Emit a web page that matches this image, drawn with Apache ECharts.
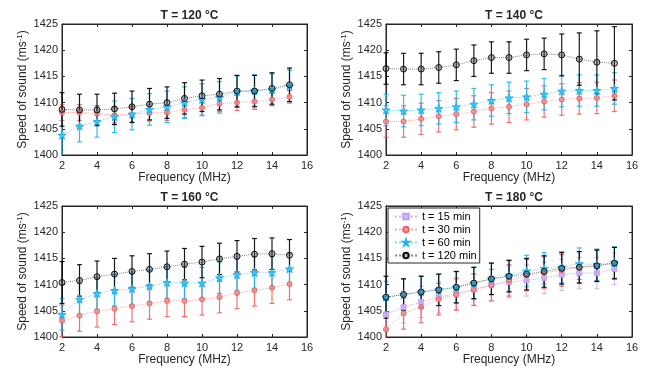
<!DOCTYPE html>
<html><head><meta charset="utf-8">
<script src="https://cdn.jsdelivr.net/npm/echarts@6/dist/echarts.min.js"></script>
<style>html,body{margin:0;padding:0;background:#fff}#c{width:646px;height:371px}</style>
</head><body><div id="c"></div>
<script>
// ---- data ----
const freq = [2,3,4,5,6,7,8,9,10,11,12,13,14,15];
const xTicks = [2,4,6,8,10,12,14,16];
const yTicks = [1400,1405,1410,1415,1420,1425];
const titles = ['T = 120 °C','T = 140 °C','T = 160 °C','T = 180 °C'];
const seriesNames = ['t = 15 min','t = 30 min','t = 60 min','t = 120 min'];

// T = 120 C
const t120_30  = [1408.1,1408.1,1407.9,1407.6,1407.8,1408.0,1408.1,1408.6,1409.0,1409.8,1410.0,1410.2,1410.6,1411.1];
const t120_30e = [1.5,1.5,1.5,1.5,1.5,1.5,1.5,1.5,1.5,1.5,1.5,1.5,1.2,1.2];
const t120_60  = [1403.8,1405.5,1406.4,1407.3,1407.8,1408.7,1409.2,1410.0,1410.6,1411.0,1412.1,1412.3,1412.5,1413.2];
const t120_60e = [4.5,3,3,3,3,3,3,3,3,3,3,3,3,3];
const t120_120  = [1408.7,1408.6,1408.6,1408.8,1409.2,1409.7,1410.0,1410.8,1411.3,1411.6,1412.2,1412.2,1412.7,1413.4];
const t120_120e = [3.2,3,3,3,3,3,3,3,3,3,3,3,3,3.2];

// T = 140 C
const t140_30  = [1406.4,1406.4,1406.9,1407.4,1407.8,1408.3,1408.9,1409.2,1409.7,1410.2,1410.6,1410.8,1410.9,1411.3];
const t140_30e = [3,3,3,3,3,3,3,3,3,3,3,3,3,3];
const t140_60  = [1408.6,1408.4,1408.6,1408.9,1409.2,1409.7,1410.4,1410.9,1411.1,1411.6,1412.2,1412.3,1412.3,1412.7];
const t140_60e = [3,3,3,3,3,3,3,3,3,3,3,3,3,3];
const t140_120  = [1416.5,1416.4,1416.4,1416.7,1417.2,1418.0,1418.6,1418.6,1419.1,1419.3,1419.1,1418.3,1417.7,1417.5];
const t140_120e = [3,3,3,3,3,3,3,3,3,3,4,5,6,7];

// T = 160 C
const t160_30  = [1403.1,1404.1,1404.9,1405.4,1405.9,1406.4,1406.9,1406.9,1407.2,1407.6,1408.4,1408.9,1409.4,1410.1];
const t160_30e = [3,3,3,3,3,3,3,3,3,3,3,3,3,3];
const t160_60  = [1404.3,1407.2,1408.3,1408.9,1409.2,1409.7,1410.4,1410.3,1410.3,1411.3,1411.9,1412.3,1412.3,1413.0];
const t160_60e = [3,3,3,3,3,3,3,3,3,3,3,3,3,3];
const t160_120  = [1410.4,1410.8,1411.5,1412.0,1412.5,1412.9,1413.4,1413.9,1414.3,1414.9,1415.4,1415.8,1415.9,1415.6];
const t160_120e = [4,3,3,3,3,3,3,3,3,3,3,3,3,3];

// T = 180 C
const t180_15  = [1404.3,1405.7,1406.7,1407.6,1408.3,1409.1,1409.9,1410.5,1410.8,1411.3,1411.9,1412.2,1412.2,1413.0];
const t180_15e = [3,3,3,3,3,3,3,3,3,3,3,3,3,3];
const t180_30  = [1401.5,1404.5,1405.7,1407.2,1408.1,1409.0,1409.9,1410.8,1411.8,1412.3,1412.7,1413.3,1413.6,1414.1];
const t180_30e = [3,3,3,3,3,3,3,3,3,3,3,3,3,3];
const t180_60  = [1407.6,1408.1,1408.6,1409.0,1409.5,1410.3,1411.1,1411.7,1412.6,1413.1,1413.3,1414.0,1413.8,1414.2];
const t180_60e = [3,3,3,3,3,3,3,3,3,3,3,3,3,3];
const t180_120  = [1407.6,1408.1,1408.6,1409.0,1409.5,1410.3,1411.1,1411.6,1412.0,1412.5,1413.1,1413.3,1413.6,1414.1];
const t180_120e = [4,3,3,3,3,3,3,3,3,3,3,3,3,3];

// ---- styling ----
const FONT = 'Liberation Sans, Arial, sans-serif';
const TXT = '#262626';
const STAR = 'path://M50,0 L61,35 L98,35 L68,57 L79,91 L50,70 L21,91 L32,57 L2,35 L39,35 Z';
const styles = {
  't = 15 min':  {line:'rgba(190,160,240,0.8)', bar:'rgba(200,170,245,0.8)', fill:'rgba(205,180,245,0.9)', border:'rgba(190,160,240,1)', symbol:'rect', size:5},
  't = 30 min':  {line:'rgba(240,120,120,0.6)', bar:'rgba(240,90,90,0.85)', fill:'rgba(245,140,140,0.85)', border:'rgba(240,100,100,1)', symbol:'circle', size:5},
  't = 60 min':  {line:'rgba(60,190,240,0.6)', bar:'rgba(30,180,240,0.9)', fill:'rgba(60,195,245,1)', border:'rgba(30,180,240,1)', symbol:STAR, size:8},
  't = 120 min': {line:'rgba(40,40,40,0.55)', bar:'rgba(0,0,0,0.9)', fill:'rgba(70,70,70,0.35)', border:'#111', symbol:'circle', size:6}
};

const panels = [
  [['t = 30 min',t120_30,t120_30e],['t = 60 min',t120_60,t120_60e],['t = 120 min',t120_120,t120_120e]],
  [['t = 30 min',t140_30,t140_30e],['t = 60 min',t140_60,t140_60e],['t = 120 min',t140_120,t140_120e]],
  [['t = 30 min',t160_30,t160_30e],['t = 60 min',t160_60,t160_60e],['t = 120 min',t160_120,t160_120e]],
  [['t = 15 min',t180_15,t180_15e],['t = 30 min',t180_30,t180_30e],['t = 60 min',t180_60,t180_60e],['t = 120 min',t180_120,t180_120e]]
];

const grids = [
  {left:62, top:24, width:245, height:131},
  {left:386, top:24, width:246, height:131},
  {left:62, top:206, width:245, height:131},
  {left:386, top:206, width:246, height:131}
];

function renderErr(color){
  return function(params, api){
    const x = api.value(0), lo = api.value(1), hi = api.value(2);
    const pt = api.coord([x, hi]), pb = api.coord([x, lo]);
    const cs = params.coordSys;
    const yTop = cs.y, yBot = cs.y + cs.height;
    const st = {stroke: color, lineWidth: 1.2};
    const ch = [];
    const y1 = Math.max(pt[1], yTop), y2 = Math.min(pb[1], yBot);
    ch.push({type:'line', shape:{x1:pt[0], y1:y1, x2:pt[0], y2:y2}, style:st});
    if (pt[1] >= yTop) ch.push({type:'line', shape:{x1:pt[0]-2.5, y1:pt[1], x2:pt[0]+2.5, y2:pt[1]}, style:st});
    if (pb[1] <= yBot) ch.push({type:'line', shape:{x1:pb[0]-2.5, y1:pb[1], x2:pb[0]+2.5, y2:pb[1]}, style:st});
    return {type:'group', children:ch};
  };
}

const xAxis = [], yAxis = [], lineSeries = [], errSeries = [], title = [];
grids.forEach((g, i) => {
  const axCommon = {
    axisLine:{show:true, lineStyle:{color:TXT, width:1}},
    axisTick:{show:true, inside:true, length:3, lineStyle:{color:TXT}},
    splitLine:{show:false}
  };
  xAxis.push(Object.assign({}, axCommon, {
    gridIndex:i, type:'value', min:xTicks[0], max:xTicks[xTicks.length-1], interval:xTicks[1]-xTicks[0],
    name:'Frequency (MHz)', nameLocation:'middle', nameGap:13,
    nameTextStyle:{fontFamily:FONT, fontSize:12, color:TXT},
    axisLabel:{fontFamily:FONT, fontSize:11, color:TXT, margin:5, formatter: v => String(v)}
  }));
  xAxis.push(Object.assign({}, axCommon, {
    gridIndex:i, type:'value', position:'top', min:xTicks[0], max:xTicks[xTicks.length-1], interval:xTicks[1]-xTicks[0],
    axisLabel:{show:false}
  }));
  yAxis.push(Object.assign({}, axCommon, {
    gridIndex:i, type:'value', min:yTicks[0], max:yTicks[yTicks.length-1], interval:yTicks[1]-yTicks[0],
    name:'Speed of sound (ms{sup|-1})', nameLocation:'middle', nameGap:32,
    nameTextStyle:{fontFamily:FONT, fontSize:12, color:TXT, lineHeight:14,
      rich:{sup:{fontFamily:FONT, fontSize:8, color:TXT, verticalAlign:'top', lineHeight:14, padding:[0,0,6,0]}}},
    axisLabel:{fontFamily:FONT, fontSize:11, color:TXT, margin:4, formatter: v => String(v)}
  }));
  yAxis.push(Object.assign({}, axCommon, {
    gridIndex:i, type:'value', position:'right', min:yTicks[0], max:yTicks[yTicks.length-1], interval:yTicks[1]-yTicks[0],
    axisLabel:{show:false}
  }));
  title.push({text:titles[i], left:g.left + g.width/2, top:g.top - 19, textAlign:'center',
    textStyle:{fontFamily:FONT, fontSize:12, fontWeight:'bold', color:TXT}});

  panels[i].forEach(([name, mean, err]) => {
    const s = styles[name];
    lineSeries.push({
      type:'line', name:name, xAxisIndex:2*i, yAxisIndex:2*i,
      data: freq.map((f,k) => [f, mean[k]]),
      symbol:s.symbol, symbolSize:s.size, showSymbol:true,
      lineStyle:{type:'dotted', width:1, color:s.line},
      itemStyle:{color:s.fill, borderColor:s.border, borderWidth:1},
      animation:false, z:3
    });
    errSeries.push({
      type:'custom', name:name, xAxisIndex:2*i, yAxisIndex:2*i,
      renderItem: renderErr(s.bar), silent:true,
      itemStyle:{color:s.border},
      encode:{x:0, y:[1,2]},
      data: freq.map((f,k) => [f, mean[k]-err[k], mean[k]+err[k]]),
      z:2
    });
  });
});

const chart = echarts.init(document.getElementById('c'), null, {renderer:'canvas'});
chart.setOption({
  animation:false,
  backgroundColor:'#fff',
  title: title,
  grid: grids.map(g => Object.assign({show:true, borderColor:TXT, borderWidth:1, backgroundColor:'transparent'}, g)),
  xAxis: xAxis, yAxis: yAxis,
  legend: {
    data: seriesNames, orient:'vertical', left:388, top:208,
    itemWidth:22, itemHeight:7, itemGap:2,
    padding:[3,3,2,6], backgroundColor:'#fff', borderColor:TXT, borderWidth:1, borderRadius:0,
    textStyle:{fontFamily:FONT, fontSize:11, color:'#000'},
    selectedMode:false
  },
  series: lineSeries.concat(errSeries)
});
</script></body></html>
